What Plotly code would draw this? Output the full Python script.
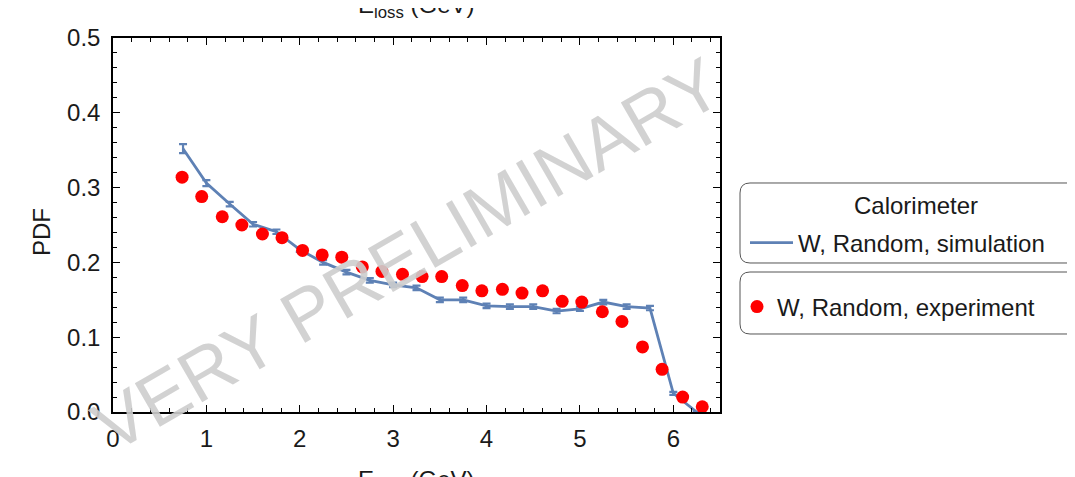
import plotly.graph_objects as go

# ---- data ----
sim_x = [0.75, 1.0, 1.25, 1.5, 1.75, 2.0, 2.25, 2.5, 2.75, 3.0, 3.25, 3.5,
         3.75, 4.0, 4.25, 4.5, 4.75, 5.0, 5.25, 5.5, 5.75, 6.0, 6.25]
sim_y = [0.352, 0.306, 0.278, 0.251, 0.241, 0.217, 0.200, 0.187, 0.176, 0.170,
         0.166, 0.150, 0.150, 0.142, 0.141, 0.141, 0.135, 0.138, 0.147, 0.141,
         0.139, 0.025, 0.0]
sim_err = [0.006, 0.004, 0.003, 0.003, 0.003, 0.003, 0.003, 0.003, 0.003, 0.003,
           0.003, 0.003, 0.003, 0.003, 0.003, 0.003, 0.003, 0.003, 0.003, 0.003,
           0.003, 0.002, 0.0]

exp_x = [0.74, 0.95, 1.17, 1.38, 1.60, 1.81, 2.03, 2.24, 2.45, 2.67, 2.88, 3.10,
         3.31, 3.52, 3.74, 3.95, 4.17, 4.38, 4.60, 4.81, 5.02, 5.24, 5.45, 5.67,
         5.88, 6.10, 6.31]
exp_y = [0.314, 0.288, 0.261, 0.250, 0.238, 0.233, 0.216, 0.210, 0.207, 0.194,
         0.188, 0.184, 0.181, 0.181, 0.169, 0.162, 0.164, 0.159, 0.162, 0.148,
         0.147, 0.134, 0.121, 0.087, 0.057, 0.020, 0.007]

x_tick_vals = [0, 1, 2, 3, 4, 5, 6]
y_tick_vals = [0.0, 0.1, 0.2, 0.3, 0.4, 0.5]

sim_name = "W, Random, simulation"
exp_name = "W, Random, experiment"
legend_title = "Calorimeter"
x_title = "E<sub>loss</sub> (GeV)"
y_title = "PDF"
watermark = "VERY PRELIMINARY"

# ---- layout geometry (page has an 8px body margin, compensated here) ----
W, H = 1075, 477
OFF = 8
PLEFT, PTOP, PW, PH = 113, 38, 607, 374   # plot area in screenshot pixels
ML, MT = PLEFT - OFF, PTOP - OFF
MR, MB = W - ML - PW, H - MT - PH
FONT = "Liberation Sans, Arial, Helvetica, sans-serif"
TXT = "#1a1a1a"
BLUE = "#5e81b5"
RED = "#ff0000"


def px2paper(px, py):
    return (px - PLEFT) / PW, (PTOP + PH - py) / PH


def rounded_box(x0, y0, x1, y1, r):
    def P(x, y):
        a, b = px2paper(x, y)
        return f"{a:.5f},{b:.5f}"
    return (f"M{P(x0 + r, y0)} L{P(x1 - r, y0)} Q{P(x1, y0)} {P(x1, y0 + r)} "
            f"L{P(x1, y1 - r)} Q{P(x1, y1)} {P(x1 - r, y1)} "
            f"L{P(x0 + r, y1)} Q{P(x0, y1)} {P(x0, y1 - r)} "
            f"L{P(x0, y0 + r)} Q{P(x0, y0)} {P(x0 + r, y0)} Z")


fig = go.Figure()

fig.add_trace(go.Scatter(
    x=sim_x, y=sim_y, name=sim_name, mode="lines",
    line=dict(color=BLUE, width=2.8),
    error_y=dict(type="data", array=sim_err, visible=True, color=BLUE,
                 thickness=2.2, width=4),
    legend="legend", showlegend=True,
))

fig.add_trace(go.Scatter(
    x=exp_x, y=exp_y, name=exp_name, mode="markers",
    marker=dict(symbol="circle", size=13, color=RED),
    legend="legend2", showlegend=True,
))

axis_common = dict(
    showgrid=False, zeroline=False, showline=True, linecolor="black",
    linewidth=1.5, mirror="ticks", ticks="inside", ticklen=7, tickwidth=1.3,
    tickcolor="black", tickfont=dict(family=FONT, size=24, color=TXT),
)

fig.update_xaxes(range=[0, 6.5], tickvals=x_tick_vals,
                 minor=dict(dtick=0.2, tick0=0, ticks="inside", ticklen=4,
                            tickwidth=1, tickcolor="black"),
                 ticklabelstandoff=4, **axis_common)
fig.update_yaxes(range=[0, 0.5], tickvals=y_tick_vals, tickformat=".1f",
                 minor=dict(dtick=0.02, tick0=0, ticks="inside", ticklen=4,
                            tickwidth=1, tickcolor="black"),
                 ticklabelstandoff=6, **axis_common)

lx1, ly1 = px2paper(745, 243)
lx2, ly2 = px2paper(737, 307)

fig.update_layout(
    width=W, height=H,
    showlegend=True,
    margin=dict(l=ML, r=MR, t=MT, b=MB, autoexpand=False),
    paper_bgcolor="white", plot_bgcolor="white",
    font=dict(family=FONT, size=24, color=TXT),
    legend=dict(x=lx1, y=ly1, xanchor="left", yanchor="middle", visible=True,
                bgcolor="rgba(0,0,0,0)", borderwidth=0, itemwidth=43,
                font=dict(family=FONT, size=24, color=TXT)),
    legend2=dict(x=lx2, y=ly2, xanchor="left", yanchor="middle", visible=True,
                 bgcolor="rgba(0,0,0,0)", borderwidth=0, itemwidth=30,
                 font=dict(family=FONT, size=24, color=TXT)),
    shapes=[
        dict(type="path", xref="paper", yref="paper",
             path=rounded_box(740, 183, 1095, 263, 10),
             line=dict(color="#555", width=1)),
        dict(type="path", xref="paper", yref="paper",
             path=rounded_box(740, 272, 1095, 334, 10),
             line=dict(color="#555", width=1)),
    ],
    annotations=[
        dict(text=legend_title, xref="paper", yref="paper",
             x=px2paper(916, 0)[0], y=px2paper(0, 205)[1],
             xanchor="center", yanchor="middle", showarrow=False,
             font=dict(family=FONT, size=24, color=TXT)),
        dict(text=x_title, xref="paper", yref="paper", x=0.5,
             y=px2paper(0, 7)[1], xanchor="center", yanchor="middle",
             showarrow=False, font=dict(family=FONT, size=24, color=TXT)),
        dict(text=x_title, xref="paper", yref="paper", x=0.5,
             y=px2paper(0, 481)[1], xanchor="center", yanchor="middle",
             showarrow=False, font=dict(family=FONT, size=24, color=TXT)),
        dict(text=y_title, xref="paper", yref="paper", x=px2paper(41, 0)[0],
             y=px2paper(0, 232)[1], xanchor="center", yanchor="middle",
             textangle=-90, showarrow=False,
             font=dict(family=FONT, size=24, color=TXT)),
        dict(text=watermark, xref="paper", yref="paper",
             x=px2paper(407, 0)[0], y=px2paper(0, 254)[1],
             xanchor="center", yanchor="middle", textangle=-30,
             showarrow=False,
             font=dict(family=FONT, size=73, color="rgba(205,205,205,0.9)")),
    ],
)

fig.write_html("out.html")
